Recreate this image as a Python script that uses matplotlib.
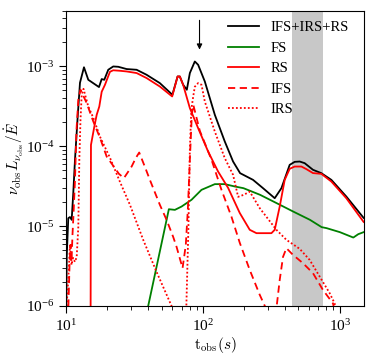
import numpy as np
import matplotlib
matplotlib.use("Agg")
import matplotlib.pyplot as plt

plt.rcParams["font.family"] = "serif"
plt.rcParams["font.serif"] = ["Liberation Serif", "DejaVu Serif"]
plt.rcParams["mathtext.fontset"] = "cm"

# total: IFS+IRS+RS
t_tot = [10.05, 10.12, 10.39, 10.69, 11.0, 11.3, 11.63, 12.13, 12.65, 13.53, 14.55, 17.42,
         18.23, 19.04, 20.36, 22.14, 24.09, 27.74, 32.82, 38.8, 48.5, 59.9, 65.4, 67.9,
         71.8, 76.4, 80.4, 87.4, 92.4, 103.4, 122.4, 144.7, 166.4, 187.3, 232.9, 275.5,
         335.4, 375.4, 431.5, 469.5, 510.5, 555.3, 638.5, 735.1, 869.9, 1119, 1497]
L_tot = [8.9e-7, 4.16e-6, 1.26e-5, 1.30e-5, 1.20e-5, 2.59e-5, 6.78e-5, 2.15e-4, 6.25e-4,
         9.77e-4, 6.81e-4, 5.52e-4, 6.95e-4, 6.81e-4, 9.09e-4, 1.0e-3, 9.91e-4, 9.28e-4,
         9.09e-4, 7.87e-4, 6.19e-4, 4.42e-4, 7.49e-4, 7.49e-4, 5.90e-4, 5.11e-4, 8.27e-4,
         1.155e-3, 1.05e-3, 6.49e-4, 2.48e-4, 1.15e-4, 6.45e-5, 4.61e-5, 3.80e-5, 2.99e-5,
         2.24e-5, 2.99e-5, 5.86e-5, 6.39e-5, 6.45e-5, 6.15e-5, 5.08e-5, 4.61e-5, 3.80e-5,
         2.35e-5, 1.27e-5]

# forward shock
t_fs = [39.35, 39.87, 56.46, 62.5, 69.9, 82.7, 97.8, 122.4, 144.7, 171.2, 198.2, 262.0,
        346.8, 459.2, 607.0, 738.9, 803.6, 1005, 1259, 1369, 1497]
L_fs = [5e-7, 1.0e-6, 1.63e-5, 1.60e-5, 1.76e-5, 2.14e-5, 2.85e-5, 3.36e-5, 3.36e-5,
        3.14e-5, 2.99e-5, 2.47e-5, 1.94e-5, 1.52e-5, 1.20e-5, 9.72e-6, 9.44e-6, 8.41e-6,
        7.2e-6, 7.94e-6, 8.41e-6]

# reverse shock
t_rs = [15.12, 15.22, 16.09, 16.76, 17.51, 18.23, 19.27, 20.02, 20.96, 22.14, 24.79, 27.74,
        32.82, 38.8, 48.5, 59.7, 65.4, 67.9, 71.8, 80.4, 92.4, 109.3, 129.3, 153.0, 186.3,
        220.3, 246.6, 317.3, 335.4, 364.8, 396.8, 431.5, 469.5, 525.5, 571.4, 638.5, 735.1,
        869.9, 1119, 1497]
L_rs = [5e-7, 1.04e-4, 1.75e-4, 2.48e-4, 3.15e-4, 4.82e-4, 5.90e-4, 7.01e-4, 8.58e-4,
        8.96e-4, 8.83e-4, 8.66e-4, 8.27e-4, 7.16e-4, 5.61e-4, 4.21e-4, 7.49e-4, 7.49e-4,
        5.90e-4, 3.01e-4, 1.69e-4, 8.61e-5, 4.83e-5, 3.02e-5, 1.46e-5, 9.0e-6, 8.17e-6,
        8.17e-6, 9.0e-6, 1.76e-5, 3.80e-5, 5.23e-5, 5.58e-5, 5.58e-5, 5.18e-5, 4.62e-5,
        4.52e-5, 3.62e-5, 2.24e-5, 1.13e-5]

# internal forward shock
t_ifs = [10.25, 10.43, 10.61, 10.79, 10.97, 11.15, 11.34, 11.63, 11.93, 12.3, 12.76, 14.16,
         15.82, 17.71, 19.82, 22.14, 24.37, 26.51, 30.17, 32.43, 34.28, 37.73, 41.03, 48.53,
         54.33, 60.7, 64.3, 71.1, 75.1, 77.7, 80.4, 83.1, 85.2, 95.1, 115.8, 136.9, 162.0,
         186.3, 220.3, 260.7, 285.9, 298.2, 335.0, 346.8, 364.8, 385.6, 408.3, 456.1, 539.6,
         638.5, 755.2, 893.6, 950]
L_ifs = [5e-7, 1.09e-6, 3.27e-6, 5.83e-6, 3.57e-6, 7.78e-6, 1.39e-5, 3.80e-5, 1.61e-4,
         3.83e-4, 5.11e-4, 3.48e-4, 2.05e-4, 1.28e-4, 7.45e-5, 5.70e-5, 4.52e-5, 4.0e-5,
         5.58e-5, 7.18e-5, 8.36e-5, 5.53e-5, 3.80e-5, 1.85e-5, 1.20e-5, 7.35e-6, 5.5e-6,
         2.98e-6, 5.83e-6, 1.60e-5, 6.78e-5, 2.48e-4, 3.31e-4, 1.56e-4, 6.78e-5, 2.85e-5,
         1.31e-5, 6.18e-6, 2.83e-6, 1.38e-6, 9.75e-7, 5e-7, 5e-7, 1.0e-6, 2.12e-6, 4.12e-6,
         5.30e-6, 4.37e-6, 3.44e-6, 2.58e-6, 1.59e-6, 1.08e-6, 7e-7]

# internal reverse shock
t_irs = [10.08, 10.17, 10.43, 10.69, 10.97, 11.25, 11.63, 11.97, 12.3, 12.51, 12.76, 13.02,
         13.42, 14.55, 15.82, 17.71, 20.96, 24.79, 29.33, 36.67, 45.92, 59.1, 62.5, 73.9,
         75.8, 78.4, 80.4, 82.4, 85.0, 87.4, 92.4, 97.8, 103.4, 122.4, 144.7, 166.4, 181.1,
         199.2, 220.3, 260.7, 345.1, 408.3, 510.5, 603.9, 714.5, 845.3, 919.3, 966]
L_irs = [5e-7, 1.19e-6, 2.45e-6, 5.83e-6, 3.27e-6, 4.01e-6, 3.57e-6, 4.12e-6, 9.80e-6,
         6.78e-5, 2.15e-4, 4.42e-4, 5.25e-4, 3.15e-4, 2.28e-4, 1.32e-4, 7.18e-5, 3.59e-5,
         1.85e-5, 6.74e-6, 2.67e-6, 1.0e-6, 4e-7, 4e-7, 1.0e-6, 9.0e-6, 9.04e-5, 2.87e-4,
         4.17e-4, 5.57e-4, 6.19e-4, 5.90e-4, 3.64e-4, 1.53e-4, 7.11e-5, 4.39e-5, 2.33e-5,
         2.47e-5, 2.71e-5, 1.68e-5, 9.0e-6, 6.74e-6, 5.20e-6, 3.78e-6, 2.34e-6, 1.45e-6,
         1.08e-6, 6e-7]

band = (450, 750)
t_arrow = 94.6

fig = plt.figure(figsize=(3.74, 3.55), dpi=100)
ax = fig.add_axes([0.1765, 0.138, 0.796, 0.832])

ax.axvspan(band[0], band[1], color="#c8c8c8", lw=0, zorder=0)
ax.plot(t_tot, L_tot, color="k", lw=1.3, label="IFS+IRS+RS")
ax.plot(t_fs, L_fs, color="green", lw=1.3, label="FS")
ax.plot(t_rs, L_rs, color="red", lw=1.3, label="RS")
ax.plot(t_ifs, L_ifs, color="red", lw=1.3, ls=(0, (4, 2.5)), label="IFS")
ax.plot(t_irs, L_irs, color="red", lw=1.3, ls=(0, (1, 1.2)), label="IRS")

ax.annotate("", xy=(t_arrow, 1.5e-3), xytext=(t_arrow, 4.1e-3),
            arrowprops=dict(arrowstyle="-|>", color="k", lw=0.8, mutation_scale=8))

ax.set_xscale("log")
ax.set_yscale("log")
ax.set_xlim(10, 1500)
ax.set_ylim(1e-6, 5e-3)
ax.tick_params(which="major", length=5, labelsize=11)
ax.tick_params(which="minor", length=3)
for lab in ax.get_xticklabels() + ax.get_yticklabels():
    lab.set_fontsize(11)

ax.set_xlabel(r"$\mathrm{t_{obs}}(s)$", fontsize=11, labelpad=1)
ax.set_ylabel(r"$\nu_{\rm obs}L_{\nu_{\rm obs}}/\dot{E}$", fontsize=11, labelpad=0)

ax.legend(loc="upper left", bbox_to_anchor=(0.525, 0.985), frameon=False, fontsize=10.5,
          handlelength=2.1, handletextpad=0.8, labelspacing=0.5, borderaxespad=0)

fig.savefig("out.png", dpi=100)
